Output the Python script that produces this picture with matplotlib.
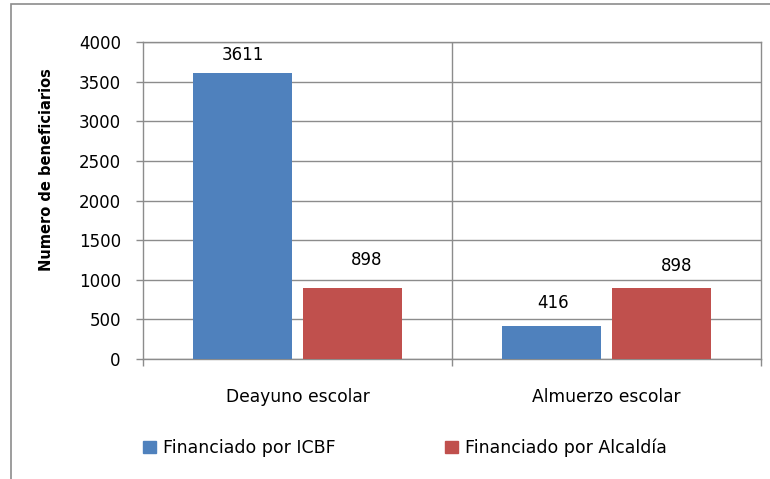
import matplotlib.pyplot as plt
from matplotlib.patches import Rectangle, Patch
import numpy as np

# =====================================
# DATA
# =====================================

categories = ["Deayuno escolar", "Almuerzo escolar"]
icbf = [3611, 416]
alcaldia = [898, 898]
series_names = ["Financiado por ICBF", "Financiado por Alcaldía"]
y_ticks = [0, 500, 1000, 1500, 2000, 2500, 3000, 3500, 4000]

# label offsets in points (labels were nudged in the original)
icbf_offsets = [(0, 6), (1, 10)]
alc_offsets = [(10, 13.5), (11, 9.5)]

BLUE = "#4F81BD"
RED = "#C0504D"
GRID = "#8c8c8c"

plt.rcParams["font.family"] = ["DejaVu Sans"]

# =====================================
# PLOT
# =====================================

fig = plt.figure(figsize=(7.7, 4.79), dpi=100)
ax = fig.add_axes([143/770, 1 - 359/479, 618/770, 317/479])

x = np.arange(len(categories))
width = 0.32
shift = 0.178

ax.bar(x - shift, icbf, width, color=BLUE, zorder=3)
ax.bar(x + shift, alcaldia, width, color=RED, zorder=3)

for i in range(len(categories)):
    ax.annotate(str(icbf[i]), (x[i] - shift, icbf[i]), xytext=icbf_offsets[i],
                textcoords="offset points", ha="center", va="bottom", fontsize=12)
    ax.annotate(str(alcaldia[i]), (x[i] + shift, alcaldia[i]), xytext=alc_offsets[i],
                textcoords="offset points", ha="center", va="bottom", fontsize=12)

ax.set_xlim(-0.5, len(categories) - 0.5)
ax.set_ylim(0, 4000)
ax.set_yticks(y_ticks)
ax.yaxis.grid(True, color=GRID, linewidth=1.0, zorder=0)
ax.set_axisbelow(True)
for b in np.arange(0.5, len(categories) - 0.5, 1.0):
    ax.axvline(b, color=GRID, linewidth=1.0, zorder=1)

ax.set_xticks(np.arange(-0.5, len(categories), 1.0))
ax.set_xticklabels([])
ax.set_xticks(x, minor=True)
ax.set_xticklabels(categories, minor=True, fontsize=12.3)
ax.tick_params(axis="x", which="major", length=5, width=1.0, color=GRID, direction="out")
ax.tick_params(axis="x", which="minor", length=0, pad=21)
ax.tick_params(axis="y", length=5, width=1.0, color=GRID, direction="out", pad=11, labelsize=12)

for s in ax.spines.values():
    s.set_color(GRID)
    s.set_linewidth(1.0)

fig.text(47/770, 1 - 170/479, "Numero de beneficiarios", rotation=90, fontsize=10.5,
         fontweight="bold", ha="center", va="center")

handles = [Patch(color=BLUE), Patch(color=RED)]
fig.legend(handles, series_names, loc="center left", bbox_to_anchor=(143/770, 1 - 448/479),
           ncol=2, frameon=False, fontsize=12.5, handlelength=0.75, handleheight=0.7,
           handletextpad=0.4, columnspacing=6.3, borderpad=0, borderaxespad=0)

# chart outer border
fig.patches.append(Rectangle((11/770, -0.1), 1.2, 1 - 4/479 + 0.1, transform=fig.transFigure,
                             fill=False, edgecolor="#8c8c8c", linewidth=1.2))

fig.savefig("out.png", dpi=100)
